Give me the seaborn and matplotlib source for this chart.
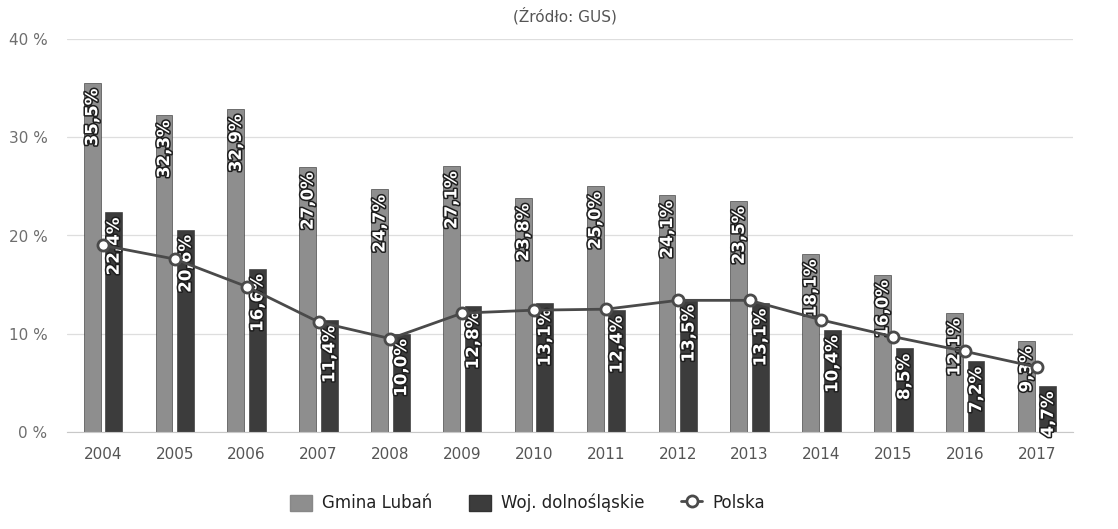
import pandas as pd
import matplotlib.pyplot as plt
import matplotlib.patheffects as pe
from matplotlib.lines import Line2D
from matplotlib.patches import Patch
import seaborn as sns

# -------------------- Data --------------------
years = ["2004", "2005", "2006", "2007", "2008", "2009", "2010",
         "2011", "2012", "2013", "2014", "2015", "2016", "2017"]
luban = [35.5, 32.3, 32.9, 27.0, 24.7, 27.1, 23.8, 25.0, 24.1, 23.5, 18.1, 16.0, 12.1, 9.3]
dolnoslaskie = [22.4, 20.6, 16.6, 11.4, 10.0, 12.8, 13.1, 12.4, 13.5, 13.1, 10.4, 8.5, 7.2, 4.7]
polska = [19.0, 17.6, 14.8, 11.2, 9.5, 12.1, 12.4, 12.5, 13.4, 13.4, 11.4, 9.7, 8.2, 6.6]

series_names = ["Gmina Lubań", "Woj. dolnośląskie", "Polska"]
y_ticks = [0, 10, 20, 30, 40]

bars = pd.DataFrame({
    "year": years * 2,
    "value": luban + dolnoslaskie,
    "series": [series_names[0]] * len(years) + [series_names[1]] * len(years),
})
line_df = pd.DataFrame({"pos": range(len(years)), "value": polska})

light, dark, line_col = "#8e8e8e", "#3c3c3c", "#4a4a4a"

# -------------------- Figure --------------------
sns.set_style("white")
plt.rcParams["font.family"] = ["DejaVu Sans"]

fig = plt.figure(figsize=(11.18, 5.29), dpi=100)
ax = fig.add_axes([67 / 1118, 1 - 432 / 529, (1073 - 67) / 1118, (432 - 39) / 529])

sns.barplot(data=bars, x="year", y="value", hue="series", order=years,
            palette=[light, dark], width=0.6, gap=0.22, saturation=1,
            edgecolor="#2a2a2a", linewidth=0.4, legend=False, ax=ax, zorder=2)

# value labels inside the bars, rotated
for cont in ax.containers:
    for rect in cont:
        h = rect.get_height()
        ax.annotate(f"{h:.1f}%".replace(".", ","),
                    (rect.get_x() + rect.get_width() / 2, h),
                    xytext=(0, -4), textcoords="offset points",
                    rotation=90, ha="center", va="top",
                    fontsize=12, fontweight="bold", color="white", zorder=4,
                    path_effects=[pe.withStroke(linewidth=2.2, foreground="#1e1e1e")])

sns.lineplot(data=line_df, x="pos", y="value", color=line_col, linewidth=2,
             marker="o", markersize=8, markerfacecolor="white",
             markeredgecolor=line_col, markeredgewidth=2, ax=ax, zorder=5)

# -------------------- Axes styling --------------------
ax.set_xlim(-0.5, len(years) - 0.5)
ax.set_ylim(0, 40)
ax.set_yticks(y_ticks)
ax.set_yticklabels([f"{t} %" for t in y_ticks])
ax.set_xticks(range(len(years)))
ax.set_xticklabels(years)
ax.set_xticks([i + 0.5 for i in range(len(years) - 1)], minor=True)
ax.set_xlabel("")
ax.set_ylabel("")

ax.grid(axis="y", color="#dedede", linewidth=0.9, zorder=0)
ax.set_axisbelow(True)
for s in ["top", "right", "left"]:
    ax.spines[s].set_visible(False)
ax.spines["bottom"].set_color("#c8c8c8")

ax.tick_params(axis="y", length=0, pad=14, labelsize=11, labelcolor="#6e6e6e")
ax.tick_params(axis="x", which="major", length=0, pad=11, labelsize=11, labelcolor="#555555")
ax.tick_params(axis="x", which="minor", length=8, color="#cccccc", width=0.8)

fig.text(0.505, 0.97, "(Źródło: GUS)", ha="center", va="center",
         fontsize=11, color="#555555")

# -------------------- Legend --------------------
handles = [
    Patch(facecolor=light, edgecolor="#888888"),
    Patch(facecolor=dark, edgecolor="#333333"),
    Line2D([0], [0], color=line_col, linewidth=2, marker="o", markersize=8,
           markerfacecolor="white", markeredgecolor=line_col, markeredgewidth=2),
]
fig.legend(handles, series_names, loc="center", bbox_to_anchor=(0.472, 0.049),
           ncol=3, frameon=False, handlelength=1.3, handleheight=1.1,
           columnspacing=2.2, handletextpad=0.6,
           prop={"weight": "normal", "size": 12})
for t in fig.legends[0].get_texts():
    t.set_color("#222222")

fig.savefig("out.png", dpi=100)
